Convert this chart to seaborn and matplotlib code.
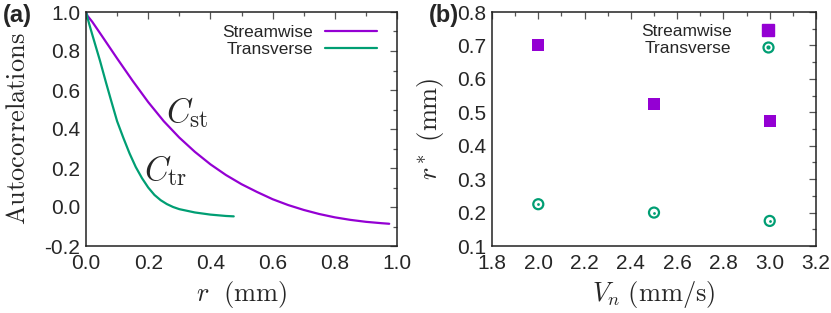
import numpy as np
import pandas as pd
import matplotlib
matplotlib.use("Agg")
import matplotlib.pyplot as plt
import seaborn as sns
from matplotlib.ticker import MultipleLocator
from matplotlib.legend_handler import HandlerTuple

# panel (a): autocorrelations vs r (mm)
r_st = [0.0, 0.005, 0.02, 0.05, 0.1, 0.15, 0.2, 0.25, 0.3, 0.35, 0.4, 0.45,
        0.5, 0.55, 0.6, 0.65, 0.7, 0.75, 0.8, 0.85, 0.9, 0.95, 0.975]
c_st = [1.0, 0.98, 0.95, 0.88, 0.762, 0.647, 0.538, 0.44, 0.356, 0.283,
        0.219, 0.164, 0.117, 0.077, 0.04, 0.01, -0.015, -0.036, -0.053,
        -0.066, -0.076, -0.083, -0.086]
r_tr = [0.0, 0.01, 0.02, 0.032, 0.045, 0.064, 0.08, 0.1, 0.12, 0.14, 0.16,
        0.18, 0.2, 0.22, 0.24, 0.26, 0.28, 0.3, 0.35, 0.4, 0.45, 0.475]
c_tr = [1.0, 0.94, 0.885, 0.82, 0.75, 0.64, 0.55, 0.44, 0.355, 0.275, 0.205,
        0.148, 0.10, 0.062, 0.035, 0.015, 0.0, -0.011, -0.028, -0.039,
        -0.046, -0.048]

# panel (b): r* vs V_n
vn = [2.0, 2.5, 3.0]
rstar_st = [0.70, 0.525, 0.475]
rstar_tr = [0.225, 0.20, 0.175]

purple = "#9400D3"
green = "#009E73"

sns.set_style("white")
plt.rcParams["font.family"] = ["Liberation Sans", "DejaVu Sans"]
plt.rcParams["mathtext.fontset"] = "cm"

df_st = pd.DataFrame({"r": r_st, "C": c_st})
df_tr = pd.DataFrame({"r": r_tr, "C": c_tr})

fig = plt.figure(figsize=(8.31, 3.13), dpi=100)
ax1 = fig.add_axes([86 / 831, 1 - 246 / 313, 311 / 831, 234 / 313])
ax2 = fig.add_axes([492 / 831, 1 - 246 / 313, 324 / 831, 234 / 313])


def style_axes(ax):
    for s in ax.spines.values():
        s.set_color("#222222")
        s.set_linewidth(1.1)
    ax.tick_params(which="both", direction="in", top=True, right=True,
                   color="#555555", labelsize=15)
    ax.tick_params(axis="x", pad=6)
    ax.tick_params(axis="y", pad=4)
    ax.tick_params(which="major", length=5, width=0.9)
    ax.tick_params(which="minor", length=3, width=0.9)


sns.lineplot(data=df_st, x="r", y="C", ax=ax1, color=purple, lw=1.6,
             label="Streamwise", sort=False)
sns.lineplot(data=df_tr, x="r", y="C", ax=ax1, color=green, lw=1.6,
             label="Transverse", sort=False)
ax1.set_xlim(0, 1)
ax1.set_ylim(-0.2, 1.0)
ax1.xaxis.set_major_locator(MultipleLocator(0.2))
ax1.xaxis.set_minor_locator(MultipleLocator(0.1))
ax1.yaxis.set_major_locator(MultipleLocator(0.2))
ax1.yaxis.set_minor_locator(MultipleLocator(0.1))
ax1.xaxis.set_major_formatter(lambda v, p: f"{v:.1f}")
ax1.yaxis.set_major_formatter(lambda v, p: f"{v:.1f}")
style_axes(ax1)
ax1.set_xlabel(r"$r\ \ \mathrm{(mm)}$", fontsize=19, labelpad=4)
ax1.set_ylabel(r"$\mathrm{Autocorrelations}$", fontsize=19)
ax1.yaxis.set_label_coords(-0.18, 0.5)
ax1.text(0.258, 0.436, r"$C_{\mathrm{st}}$", fontsize=24)
ax1.text(0.188, 0.138, r"$C_{\mathrm{tr}}$", fontsize=24)
ax1.legend(loc="upper right", frameon=False, markerfirst=False,
           fontsize=12.5, handlelength=3.0, handletextpad=0.7,
           labelspacing=0.1, borderaxespad=0, borderpad=0,
           bbox_to_anchor=(0.936, 0.946))
fig.text(0.004, 0.952, "(a)", fontsize=17, fontweight="bold", va="center")

# panel (b)
sns.scatterplot(x=vn, y=rstar_st, ax=ax2, marker="s", s=66, color=purple,
                edgecolor=purple, linewidth=0)
sns.scatterplot(x=vn, y=rstar_tr, ax=ax2, marker="o", s=52,
                facecolor="none", edgecolor=green, linewidth=1.6)
sns.scatterplot(x=vn, y=rstar_tr, ax=ax2, marker="o", s=4, color=green,
                linewidth=0)
ax2.set_xlim(1.8, 3.2)
ax2.set_ylim(0.1, 0.8)
ax2.xaxis.set_major_locator(MultipleLocator(0.2))
ax2.xaxis.set_minor_locator(MultipleLocator(0.1))
ax2.yaxis.set_major_locator(MultipleLocator(0.1))
ax2.yaxis.set_minor_locator(MultipleLocator(0.05))
ax2.xaxis.set_major_formatter(lambda v, p: f"{v:.1f}")
ax2.yaxis.set_major_formatter(lambda v, p: f"{v:.1f}")
style_axes(ax2)
ax2.set_xlabel(r"$V_n\ \mathrm{(mm/s)}$", fontsize=19, labelpad=4)
ax2.set_ylabel(r"$r^*\ \mathrm{(mm)}$", fontsize=19)
ax2.yaxis.set_label_coords(-0.142, 0.5)

h_sq = plt.Line2D([], [], ls="", marker="s", ms=8, color=purple, mec=purple)
h_ring = plt.Line2D([], [], ls="", marker="o", ms=7.2, mfc="none",
                    mec=green, mew=1.6)
h_dot = plt.Line2D([], [], ls="", marker="o", ms=2.0, color=green)
ax2.legend([h_sq, (h_ring, h_dot)], ["Streamwise", "Transverse"],
           handler_map={tuple: HandlerTuple(ndivide=1)},
           loc="upper right", frameon=False, markerfirst=False,
           fontsize=12.5, handlelength=1.2, handletextpad=1.5,
           labelspacing=0.1, borderaxespad=0, borderpad=0,
           bbox_to_anchor=(0.884, 0.95))
fig.text(0.516, 0.952, "(b)", fontsize=17, fontweight="bold", va="center")

fig.savefig("out.png", dpi=100)
